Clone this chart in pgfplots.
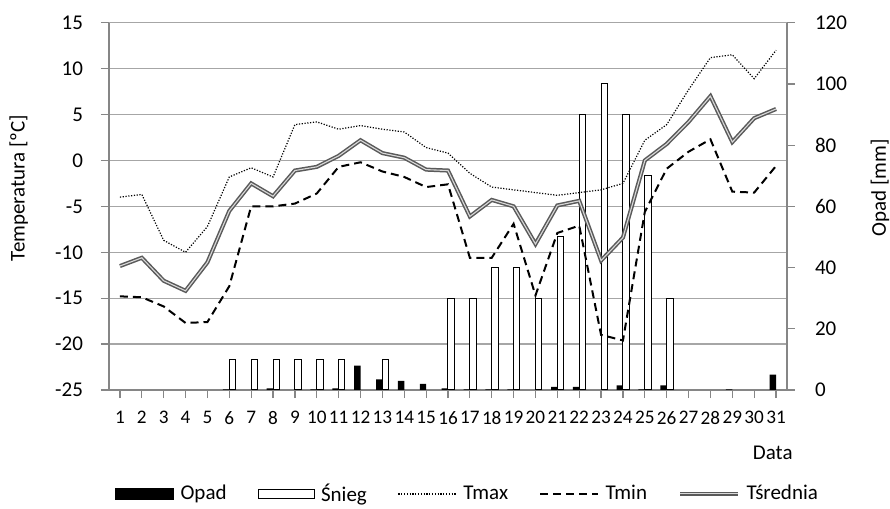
\documentclass[border=0pt]{standalone}
\usepackage{fontspec}
\setmainfont{Carlito}
\usepackage{pgfplots}
\pgfplotsset{compat=1.18}
\definecolor{axgray}{HTML}{868686}
\definecolor{gridgray}{HTML}{A6A6A6}
\definecolor{avggray}{HTML}{5A5A5A}
\pgfplotsset{
  base/.style={
    scale only axis, width=339pt, height=183.65pt,
    xmin=0.5, xmax=31.5,
    font=\fontsize{10.5}{12}\selectfont,
    axis line style={draw=axgray, line width=0.6pt},
    tick style={draw=axgray, line width=0.6pt},
    tick align=outside, major tick length=4pt,
    clip=false,
  },
}
\begin{document}
\begin{tikzpicture}
\useasboundingbox (-54.5pt,-59.5pt) rectangle (390.5pt,195pt);
% axis 1: temperature frame with grid
\begin{axis}[base,
  ymin=-25, ymax=15,
  axis x line*=bottom, axis y line*=left,
  xtick={1,...,31},
  xticklabels={1,2,3,4,5,6,7,8,9,10,11,12,13,14,15,16,17,18,19,20,21,22,23,24,25,26,27,28,29,30,31},
  xticklabel style={yshift=-3pt, font=\fontsize{9.6}{11}\selectfont},
  ytick={-25,-20,-15,-10,-5,0,5,10,15},
  yticklabels={-25,-20,-15,-10,-5,0,5,10,15},
  yticklabel style={xshift=-5.5pt},
  ymajorgrids, grid style={draw=gridgray, line width=0.6pt},
  ylabel={Temperatura [ºC]},
  every axis y label/.style={at={(axis description cs:-0.133,0.55)}, rotate=90, anchor=center},
  xlabel={Data},
  every axis x label/.style={at={(axis description cs:0.979,-0.172)}, anchor=center},
]
\addplot[draw=none] coordinates {(1,0)};
\end{axis}
% axis 2: precipitation bars (right axis)
\begin{axis}[base,
  ymin=0, ymax=120,
  axis y line*=right, axis x line=none,
  ytick={0,20,40,60,80,100,120},
  yticklabels={0,20,40,60,80,100,120},
  yticklabel style={xshift=6.5pt},
  ylabel={Opad [mm]},
  every axis y label/.style={at={(axis description cs:1.137,0.55)}, rotate=90, anchor=center},
]
\addplot[ybar, bar width=0.29, bar shift=-0.145, fill=black, draw=none] coordinates {
(6,0.2) (8,0.5) (10,0.2) (11,0.5) (12,8.0) (13,3.5) (14,3.0) (15,2.0) (16,0.5)
(17,0.2) (18,0.2) (19,0.2) (21,1.0) (22,1.0) (24,1.5) (25,0.2) (26,1.5) (29,0.2) (31,5.0)};
\addplot[ybar, bar width=0.29, bar shift=0.145, fill=white, draw=black, line width=0.5pt] coordinates {
(6,10) (7,10) (8,10) (9,10) (10,10) (11,10) (13,10) (16,30) (17,30) (18,40) (19,40)
(20,30) (21,50) (22,90) (23,100) (24,90) (25,70) (26,30)};
\end{axis}
% axis 3: temperature lines
\begin{axis}[base,
  ymin=-25, ymax=15,
  axis lines=none,
  legend columns=5,
  legend style={draw=none, fill=none, at={(axis description cs:0.0,-0.283)}, anchor=west,
    font=\fontsize{10.5}{12}\selectfont,
    /tikz/every even column/.append style={column sep=13.5pt},
    /tikz/every odd column/.append style={column sep=1.2pt}},
]
\addlegendimage{legend image code/.code={\fill[black] (0pt,-2.6pt) rectangle (29pt,2.6pt);}}
\addlegendentry{Opad}
\addlegendimage{legend image code/.code={\draw[black, fill=white, line width=0.5pt] (0pt,-2.4pt) rectangle (28pt,2.4pt);}}
\addlegendentry{Śnieg}
\addlegendimage{legend image code/.code={\draw[black, line width=0.6pt, dash pattern=on 0.6pt off 0.8pt] (0pt,0pt) -- (29pt,0pt);}}
\addlegendentry{Tmax}
\addlegendimage{legend image code/.code={\draw[black, line width=1pt, dash pattern=on 4pt off 2.5pt] (0pt,0pt) -- (29pt,0pt);}}
\addlegendentry{Tmin}
\addlegendimage{legend image code/.code={\draw[avggray, line width=0.75pt, double=white!85!black, double distance=0.55pt] (0pt,0pt) -- (29pt,0pt);}}
\addlegendentry{Tśrednia}
\addplot[black, line width=0.6pt, dash pattern=on 0.6pt off 0.8pt, mark=none, forget plot] coordinates {
(1,-4.0) (2,-3.7) (3,-8.7) (4,-10.0) (5,-7.2) (6,-1.8) (7,-0.8) (8,-1.8) (9,3.9) (10,4.2)
(11,3.4) (12,3.8) (13,3.4) (14,3.1) (15,1.4) (16,0.8) (17,-1.4) (18,-2.9) (19,-3.2) (20,-3.5)
(21,-3.8) (22,-3.5) (23,-3.2) (24,-2.5) (25,2.2) (26,3.9) (27,7.7) (28,11.2) (29,11.5) (30,8.9) (31,12.0)};
\addplot[black, line width=1pt, dash pattern=on 4pt off 2.5pt, mark=none, forget plot] coordinates {
(1,-14.8) (2,-14.9) (3,-15.9) (4,-17.7) (5,-17.6) (6,-13.7) (7,-5.0) (8,-5.0) (9,-4.7) (10,-3.6)
(11,-0.7) (12,-0.2) (13,-1.2) (14,-1.8) (15,-2.9) (16,-2.6) (17,-10.6) (18,-10.6) (19,-6.9) (20,-14.7)
(21,-7.9) (22,-7.1) (23,-19.0) (24,-19.6) (25,-5.6) (26,-0.9) (27,0.95) (28,2.3) (29,-3.4) (30,-3.5) (31,-0.6)};
\addplot[avggray, line width=0.75pt, double=white!85!black, double distance=0.55pt, mark=none, forget plot] coordinates {
(1,-11.5) (2,-10.6) (3,-13.1) (4,-14.2) (5,-11.1) (6,-5.5) (7,-2.5) (8,-3.9) (9,-1.1) (10,-0.7)
(11,0.5) (12,2.2) (13,0.8) (14,0.3) (15,-1.0) (16,-1.1) (17,-6.1) (18,-4.3) (19,-5.0) (20,-9.1)
(21,-4.9) (22,-4.4) (23,-10.9) (24,-8.4) (25,0.0) (26,1.8) (27,4.2) (28,7.0) (29,2.0) (30,4.6) (31,5.6)};
\end{axis}
\end{tikzpicture}
\end{document}
